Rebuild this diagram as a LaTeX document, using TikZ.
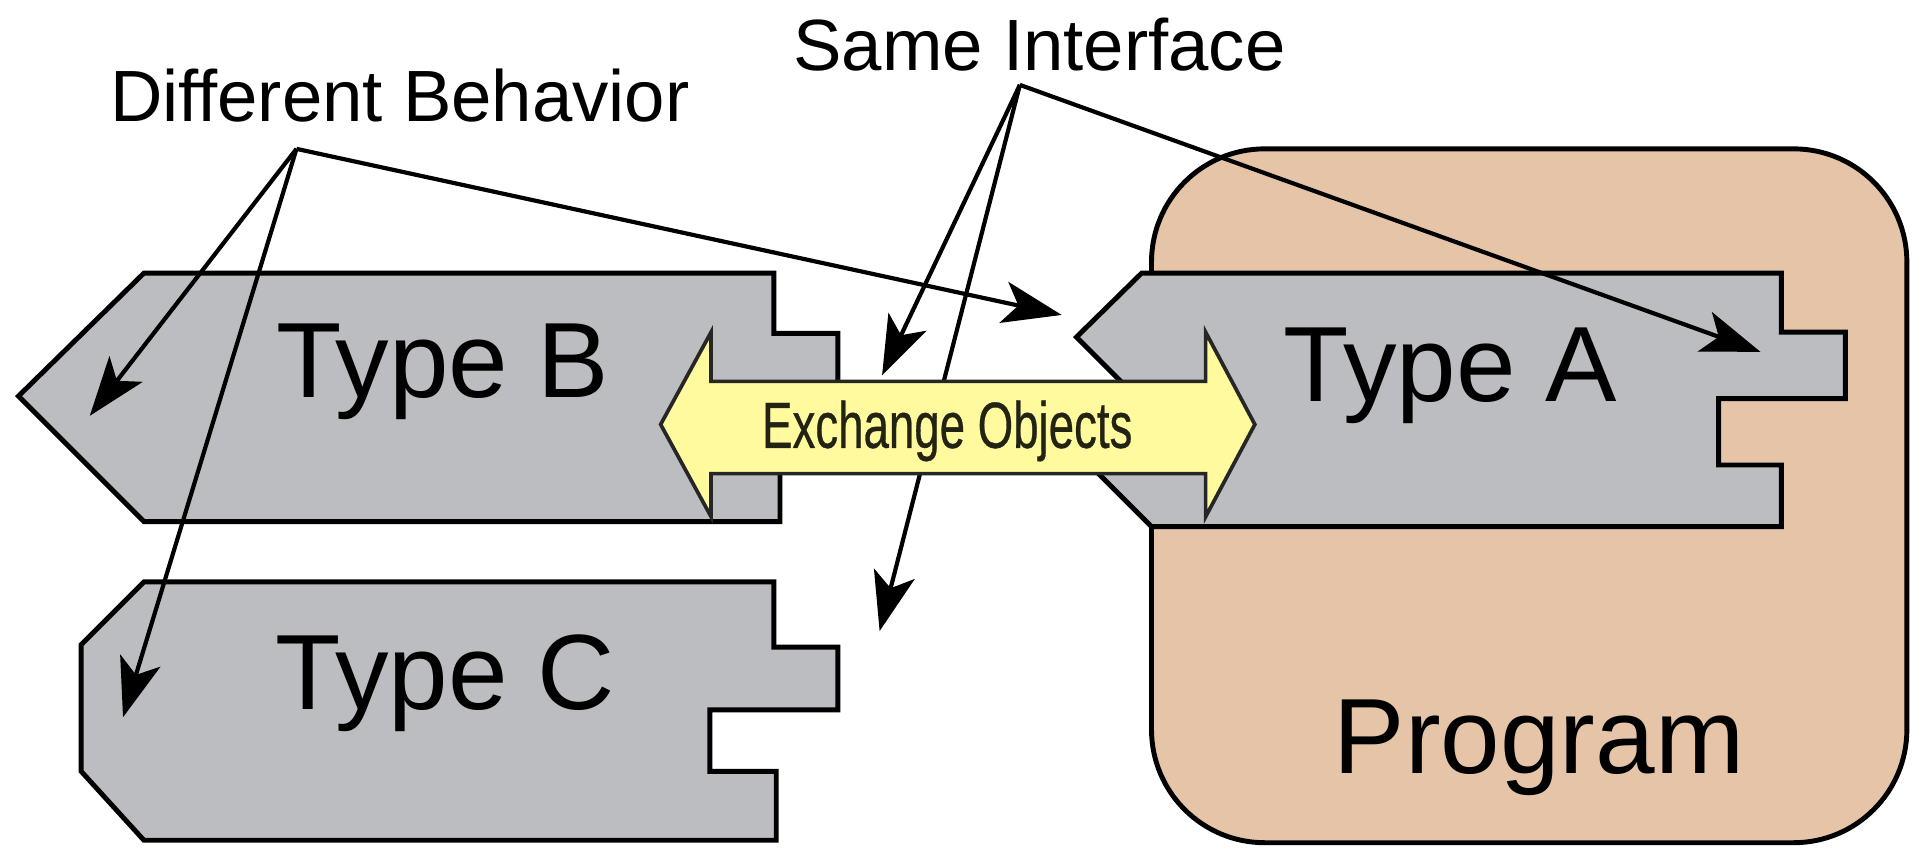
\documentclass[tikz,border=0pt]{standalone}
\usepackage{fontspec}
\usepackage{graphicx}
\setmainfont{Liberation Sans}
\usetikzlibrary{arrows.meta}
\definecolor{typegray}{RGB}{188,189,193}
\definecolor{progtan}{RGB}{229,196,168}
\definecolor{xyellow}{RGB}{255,250,158}
\definecolor{xtext}{RGB}{35,35,20}
\tikzset{
  typeshape/.style={fill=typegray, draw=black, line width=4pt, line join=miter},
  progbox/.style={fill=progtan, draw=black, line width=4pt, rounded corners=92pt},
  pointer/.style={draw=black, line width=3.4pt, -{Stealth[length=48pt,width=34pt,inset=12pt]}},
  xarrow/.style={fill=xyellow, draw=black!85, line width=3pt, line join=miter},
  toplabel/.style={inner sep=0pt, anchor=base, font=\fontsize{59}{59}\selectfont},
  typelabel/.style={inner sep=0pt, anchor=base, font=\fontsize{87}{87}\selectfont},
  xlabel/.style={inner sep=0pt, anchor=base, text=xtext, font=\fontsize{53}{53}\selectfont\addfontfeature{FakeBold=0.6}}
}
\begin{document}
\begin{tikzpicture}[x=1pt,y=-1pt]
\useasboundingbox (0,0) rectangle (1568,703);
% Program box
\draw[progbox] (936,121) rectangle (1550,685);
\node[typelabel] (prog) at (1251,629) {Program};
% Type A
\draw[typeshape] (928,222) -- (1448,222) -- (1448,270) -- (1500,270) -- (1500,324)
  -- (1397,324) -- (1397,378) -- (1448,378) -- (1448,428) -- (936,428)
  -- (893,385) -- (911,310) -- (875,274) -- cycle;
\node[typelabel] (typeA) at (1179,326) {Type A};
% Type B
\draw[typeshape] (117,222) -- (629,222) -- (629,271) -- (681,271) -- (681,325)
  -- (577,325) -- (577,382) -- (634,382) -- (634,424) -- (117,424) -- (15,322) -- cycle;
\node[typelabel] (typeB) at (360,323) {Type B};
% Type C
\draw[typeshape] (117,473) -- (629,473) -- (629,526) -- (681,526) -- (681,577)
  -- (577,577) -- (577,627) -- (631,627) -- (631,683) -- (117,683) -- (66,627)
  -- (66,524) -- cycle;
\node[typelabel] (typeC) at (362,577) {Type C};
% labels
\node[toplabel] (diff) at (325,99) {Different Behavior};
\node[toplabel] (same) at (845,57) {Same Interface};
% connector coordinates
\coordinate (dbo) at (241,121);
\coordinate (dbB) at (73,338);
\coordinate (dbC) at (100,583);
\coordinate (dbgap) at (863,256);
\coordinate (sio) at (829,69);
\coordinate (siB) at (717,305);
\coordinate (siC) at (715,513);
\coordinate (siA) at (1431,286);
% pointers
\draw[pointer] (dbo) -- (dbB);
\draw[pointer] (dbo) -- (dbC);
\draw[pointer] (dbo) -- (dbgap);
\draw[pointer] (sio) -- (siB);
\draw[pointer] (sio) -- (siC);
\draw[pointer] (sio) -- (siA);
% exchange double arrow
\draw[xarrow] (537,345) -- (578,270) -- (578,310) -- (980,310) -- (980,270)
  -- (1020,345) -- (980,420) -- (980,385) -- (578,385) -- (578,420) -- cycle;
\node[xlabel] (xo) at (770,364) {\scalebox{0.7}[1]{Exchange Objects}};
\end{tikzpicture}
\end{document}
